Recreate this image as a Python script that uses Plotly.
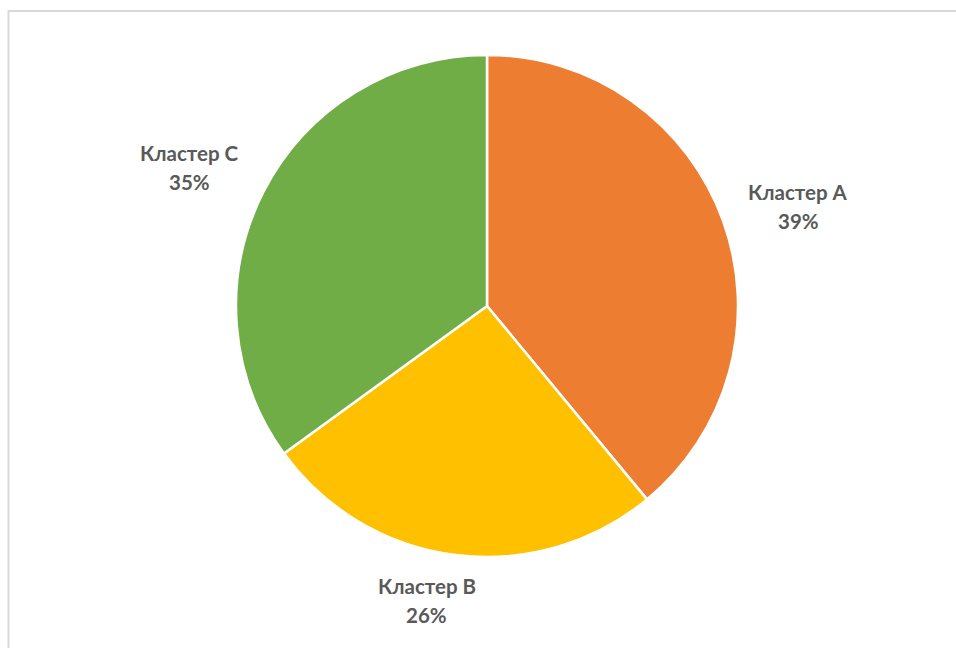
import math
import plotly.graph_objects as go

# Share of records per cluster
clusters = ["Кластер A", "Кластер B", "Кластер C"]
shares = [39, 26, 35]
colors = ["#ED7D31", "#FFC000", "#70AD47"]

W, H = 956, 648
cx, cy, R = 487, 306, 251  # pie centre and radius in pixels

fig = go.Figure(go.Pie(
    labels=clusters,
    values=shares,
    sort=False,
    direction="clockwise",
    rotation=0,
    textinfo="none",
    hoverinfo="label+percent",
    marker=dict(colors=colors, line=dict(color="white", width=2.5)),
    domain=dict(x=[(cx - R) / W, (cx + R) / W],
                y=[(H - cy - R) / H, (H - cy + R) / H]),
    showlegend=False,
))

# Data labels placed just outside each slice, at its mid angle,
# with a small per-label nudge (pixels) for best fit
nudges = [(5, 10), (-23, -3), (-7, 9)]
total = sum(shares)
cum = 0
font = dict(family="Lato", size=20.5, color="#595959")
half_w, half_h, gap = 50, 22, 20
for name, v, (nx, ny) in zip(clusters, shares, nudges):
    mid = (cum + v / 2) / total * 2 * math.pi
    cum += v
    dx, dy = math.sin(mid), -math.cos(mid)
    dist = R + gap + abs(dx) * half_w + abs(dy) * half_h
    px, py = cx + dx * dist + nx, cy + dy * dist + ny
    pct = f"{round(v / total * 100)}%"
    for txt, shift in ((name, 14), (pct, -15)):
        fig.add_annotation(
            x=px / W, y=1 - py / H, xref="paper", yref="paper",
            text=f"<b>{txt}</b>", showarrow=False, yshift=shift,
            font=font, xanchor="center", yanchor="middle",
        )

# Chart area frame
fig.add_shape(type="rect", xref="paper", yref="paper",
              x0=8.5 / W, x1=1.05, y0=-0.05, y1=1 - 11 / H,
              line=dict(color="#D9D9D9", width=2), fillcolor="rgba(0,0,0,0)")

fig.update_layout(
    width=W, height=H,
    margin=dict(l=0, r=0, t=0, b=0),
    paper_bgcolor="white",
    plot_bgcolor="white",
)

fig.write_html("out.html")
